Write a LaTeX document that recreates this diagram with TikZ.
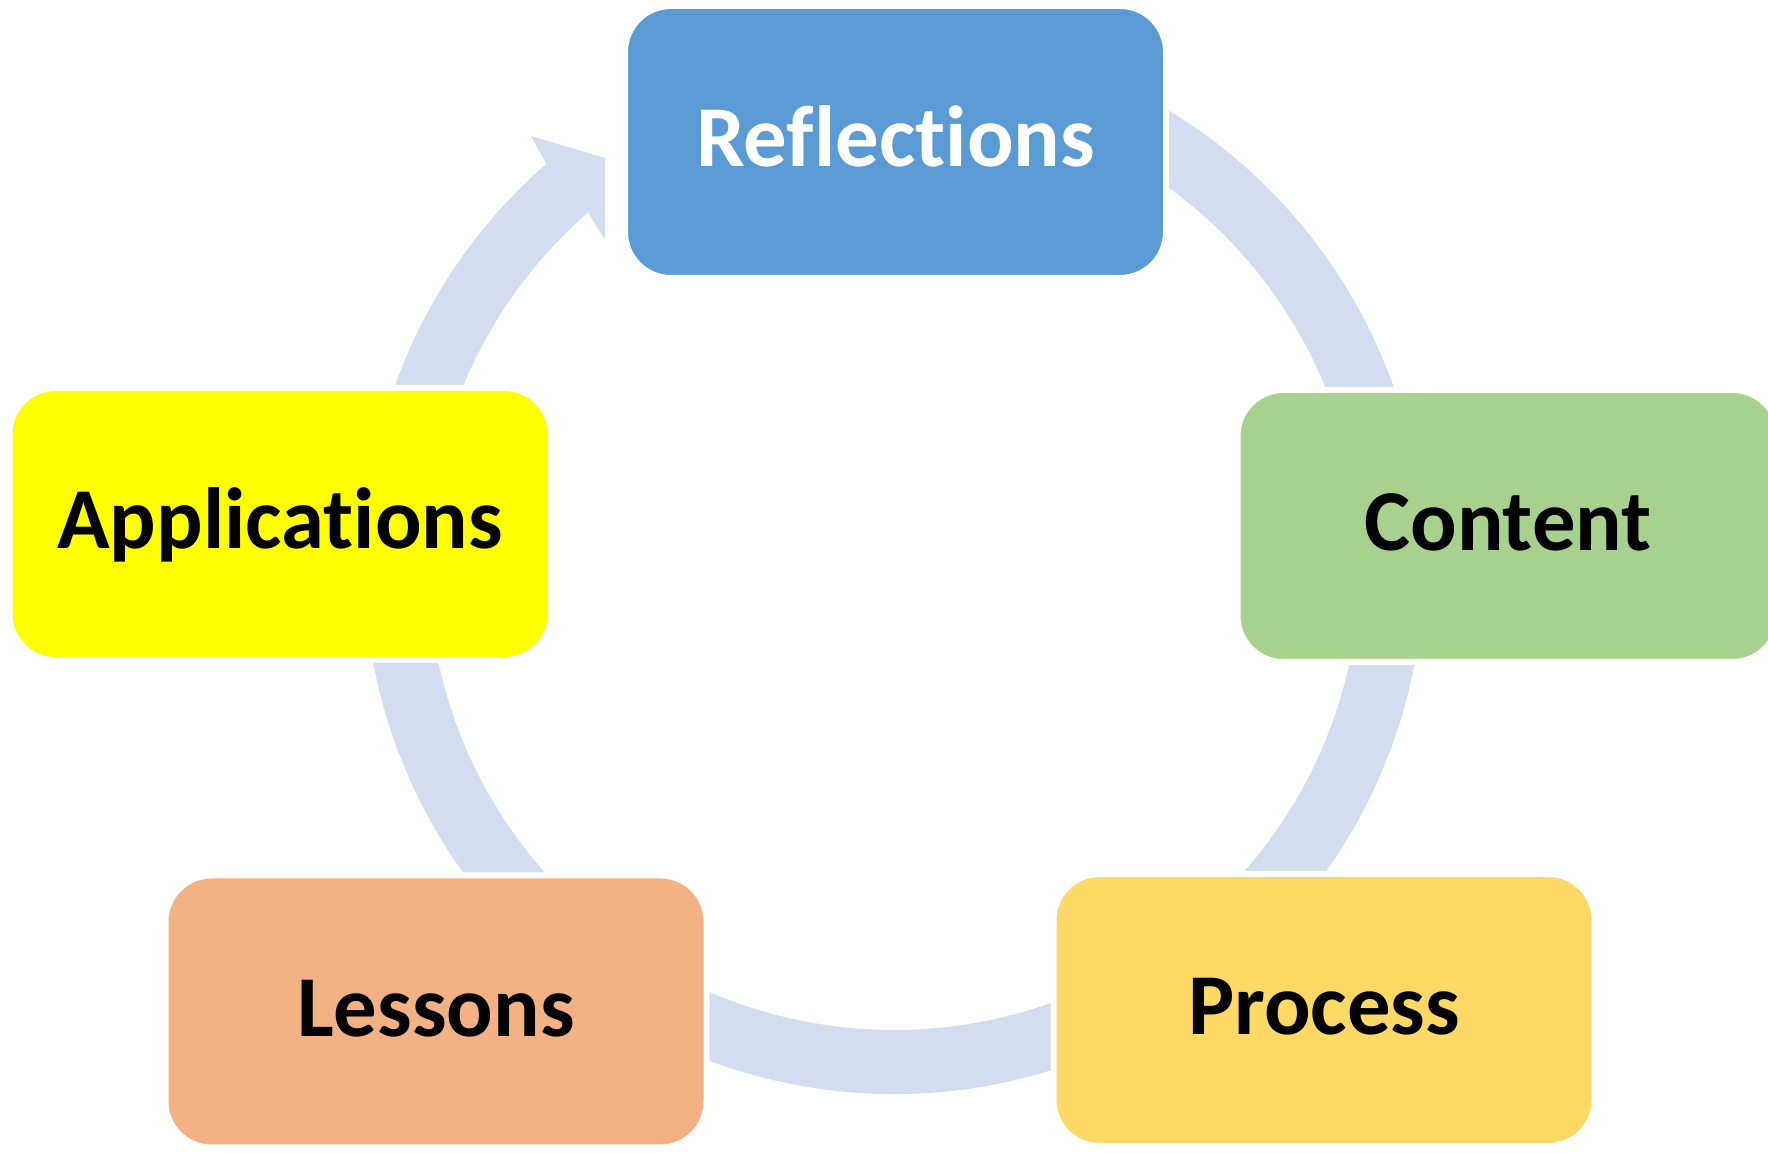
\documentclass[tikz,border=0pt]{standalone}
\usepackage{fontspec}
\setmainfont{Carlito}[Ligatures=NoCommon]
\usetikzlibrary{calc}
\definecolor{ringblue}{HTML}{D2DEEF}
\definecolor{reflblue}{HTML}{5B9BD5}
\definecolor{contgreen}{HTML}{A9D18E}
\definecolor{procyellow}{HTML}{FFD966}
\definecolor{lessorange}{HTML}{F4B183}
\definecolor{applyellow}{HTML}{FFFF00}

\begin{document}
\begin{tikzpicture}
[box/.style={rectangle, rounded corners=4.6mm, draw=white, line width=0.6mm,
   minimum width=54.1mm, minimum height=27.2mm, text height=5mm, text depth=0mm,
   font=\fontsize{24.7}{30}\selectfont\bfseries}]
\useasboundingbox (0,0) rectangle (17.68,11.53);
% one arrow round the whole cycle, under the boxes
\coordinate (ctr) at (8.94,5.89);
\coordinate (barbout) at (5.31,10.17);
\coordinate (tip) at (6.05,9.95);
\coordinate (barbin) at (6.05,9.13);
\fill[ringblue] ($(ctr)+(75:5.30)$) arc[start angle=75, end angle=-229, radius=5.30]
  -- (barbout) -- (tip) -- (barbin)
  -- ($(ctr)+(-229:4.66)$) arc[start angle=-229, end angle=75, radius=4.66] -- cycle;
% the five steps
\node[box, fill=reflblue, text=white] (refl) at (8.955,10.11) {Reflections};
\node[box, fill=contgreen] (cont) at (15.08,6.27) {Content};
\node[box, fill=procyellow] (proc) at (13.24,1.43) {Process};
\node[box, fill=lessorange] (less) at (4.36,1.415) {Lessons};
\node[box, fill=applyellow] (appl) at (2.80,6.29) {Applications};
\end{tikzpicture}
\end{document}
